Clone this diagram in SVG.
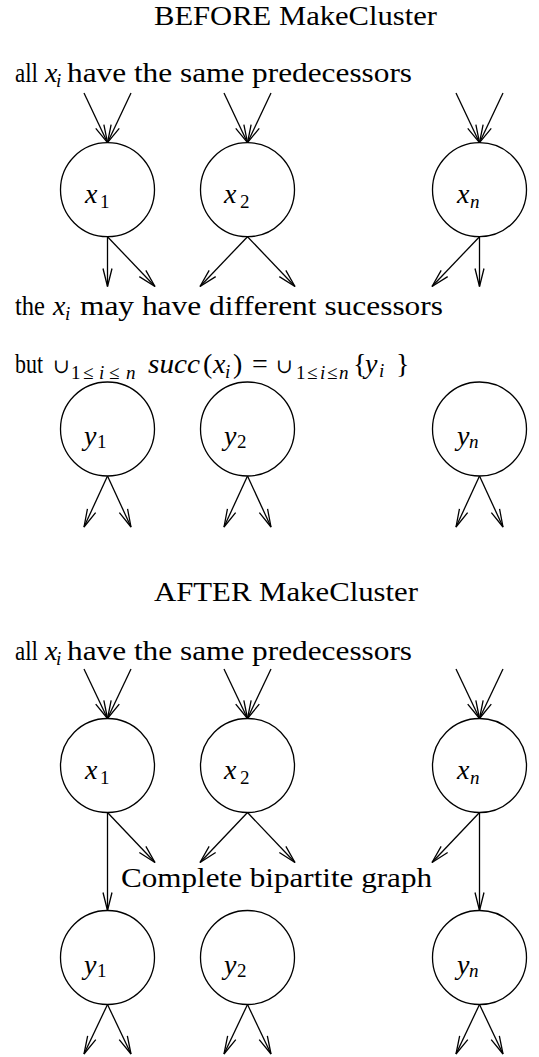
<svg xmlns="http://www.w3.org/2000/svg" width="539" height="1057" viewBox="0 0 539 1057">
<style>
text{font-family:"Liberation Serif","DejaVu Serif",serif;fill:#000}
.t{font-size:28px}
.m{font-style:italic}
.s{font-size:19px}
.node circle{fill:none;stroke:#000;stroke-width:1.3}
.node text{font-size:28px}
#connectors line{stroke:#000;stroke-width:1.3;marker-end:url(#ah)}
</style>
<defs>
<marker id="ah" markerUnits="userSpaceOnUse" markerWidth="24" markerHeight="14" viewBox="-20 -7 22 14" refX="0" refY="0" orient="auto">
<path d="M-18,-4.5 L0,0 L-18,4.5" fill="none" stroke="#000" stroke-width="1.3"/>
</marker>
</defs>

<g id="texts">
<text class="t" x="154" y="25" textLength="283" lengthAdjust="spacingAndGlyphs">BEFORE MakeCluster</text>
<text class="t" y="82"><tspan x="15" textLength="23" lengthAdjust="spacingAndGlyphs">all</tspan><tspan x="45" class="m">x</tspan><tspan x="56" dy="5" class="m s">i</tspan><tspan x="67" dy="-5" textLength="345" lengthAdjust="spacingAndGlyphs">have the same predecessors</tspan></text>
<text class="t" y="315"><tspan x="15" textLength="30" lengthAdjust="spacingAndGlyphs">the</tspan><tspan x="53" class="m">x</tspan><tspan x="65" dy="5" class="m s">i</tspan><tspan x="80" dy="-5" textLength="363" lengthAdjust="spacingAndGlyphs">may have different sucessors</tspan></text>
<text class="t" y="373"><tspan x="15" textLength="28" lengthAdjust="spacingAndGlyphs">but</tspan><tspan x="53" font-size="20">∪</tspan><tspan x="71" dy="6" class="s">1</tspan><tspan x="83" class="s">≤</tspan><tspan x="99" class="m s">i</tspan><tspan x="109" class="s">≤</tspan><tspan x="126" class="m s">n</tspan><tspan x="148" dy="-6" class="m" textLength="52" lengthAdjust="spacingAndGlyphs">succ</tspan><tspan x="203">(</tspan><tspan x="213" class="m">x</tspan><tspan x="225" dy="5" class="m s">i</tspan><tspan x="233" dy="-5">)</tspan><tspan x="252">=</tspan><tspan x="276" font-size="20">∪</tspan><tspan x="296" dy="6" class="s">1</tspan><tspan x="307" class="s">≤</tspan><tspan x="320" class="m s">i</tspan><tspan x="327" class="s">≤</tspan><tspan x="339" class="m s">n</tspan><tspan x="353" dy="-6">{</tspan><tspan x="365" class="m">y</tspan><tspan x="379" dy="4" class="m s">i</tspan><tspan x="396" dy="-4">}</tspan></text>
<text class="t" x="154" y="601" textLength="264" lengthAdjust="spacingAndGlyphs">AFTER MakeCluster</text>
<text class="t" y="660"><tspan x="15" textLength="23" lengthAdjust="spacingAndGlyphs">all</tspan><tspan x="45" class="m">x</tspan><tspan x="56" dy="5" class="m s">i</tspan><tspan x="67" dy="-5" textLength="345" lengthAdjust="spacingAndGlyphs">have the same predecessors</tspan></text>
<text class="t" x="121" y="887" textLength="311" lengthAdjust="spacingAndGlyphs">Complete bipartite graph</text>
</g>

<g id="bx1" class="node"><circle cx="107.5" cy="189.7" r="47"/><text y="203.3"><tspan x="85" class="m">x</tspan><tspan x="100" dy="5" class="s">1</tspan></text></g>
<g id="bx2" class="node"><circle cx="247.5" cy="189.7" r="47"/><text y="203.3"><tspan x="224" class="m">x</tspan><tspan x="240" dy="5" class="s">2</tspan></text></g>
<g id="bxn" class="node"><circle cx="479.5" cy="189.7" r="47"/><text y="203.3"><tspan x="457" class="m">x</tspan><tspan x="470" dy="5" class="m s">n</tspan></text></g>
<g id="by1" class="node"><circle cx="107.5" cy="429" r="47"/><text y="445"><tspan x="84" class="m">y</tspan><tspan x="97" dy="3" class="s">1</tspan></text></g>
<g id="by2" class="node"><circle cx="247.5" cy="429" r="47"/><text y="445"><tspan x="224" class="m">y</tspan><tspan x="237" dy="3" class="s">2</tspan></text></g>
<g id="byn" class="node"><circle cx="479.5" cy="429" r="47"/><text y="445"><tspan x="457" class="m">y</tspan><tspan x="469" dy="3" class="m s">n</tspan></text></g>

<g id="ax1" class="node"><circle cx="107.5" cy="765.5" r="47"/><text y="779"><tspan x="85" class="m">x</tspan><tspan x="100" dy="5" class="s">1</tspan></text></g>
<g id="ax2" class="node"><circle cx="247.5" cy="765.5" r="47"/><text y="779"><tspan x="224" class="m">x</tspan><tspan x="240" dy="5" class="s">2</tspan></text></g>
<g id="axn" class="node"><circle cx="479.5" cy="765.5" r="47"/><text y="779"><tspan x="457" class="m">x</tspan><tspan x="470" dy="5" class="m s">n</tspan></text></g>
<g id="ay1" class="node"><circle cx="107.5" cy="957.5" r="47"/><text y="973.5"><tspan x="84" class="m">y</tspan><tspan x="97" dy="3" class="s">1</tspan></text></g>
<g id="ay2" class="node"><circle cx="247.5" cy="957.5" r="47"/><text y="973.5"><tspan x="224" class="m">y</tspan><tspan x="237" dy="3" class="s">2</tspan></text></g>
<g id="ayn" class="node"><circle cx="479.5" cy="957.5" r="47"/><text y="973.5"><tspan x="457" class="m">y</tspan><tspan x="469" dy="3" class="m s">n</tspan></text></g>

<g id="connectors">
<line x1="84" y1="93" x2="107.5" y2="142.7"/><line x1="131" y1="93" x2="107.5" y2="142.7"/>
<line x1="224" y1="93" x2="247.5" y2="142.7"/><line x1="271" y1="93" x2="247.5" y2="142.7"/>
<line x1="456" y1="93" x2="479.5" y2="142.7"/><line x1="503" y1="93" x2="479.5" y2="142.7"/>
<line x1="107.5" y1="236.7" x2="107.5" y2="286.5"/><line x1="107.5" y1="236.7" x2="155" y2="286.5"/>
<line x1="247.5" y1="236.7" x2="200" y2="286.5"/><line x1="247.5" y1="236.7" x2="295" y2="286.5"/>
<line x1="479.5" y1="236.7" x2="432" y2="286.5"/><line x1="479.5" y1="236.7" x2="479.5" y2="286.5"/>
<line x1="107.5" y1="476" x2="84" y2="527"/><line x1="107.5" y1="476" x2="131" y2="527"/>
<line x1="247.5" y1="476" x2="224" y2="527"/><line x1="247.5" y1="476" x2="271" y2="527"/>
<line x1="479.5" y1="476" x2="456" y2="527"/><line x1="479.5" y1="476" x2="503" y2="527"/>
<line x1="84" y1="669" x2="107.5" y2="718.5"/><line x1="131" y1="669" x2="107.5" y2="718.5"/>
<line x1="224" y1="669" x2="247.5" y2="718.5"/><line x1="271" y1="669" x2="247.5" y2="718.5"/>
<line x1="456" y1="669" x2="479.5" y2="718.5"/><line x1="503" y1="669" x2="479.5" y2="718.5"/>
<line x1="107.5" y1="812.5" x2="107.5" y2="910.5"/><line x1="107.5" y1="812.5" x2="155" y2="862.5"/>
<line x1="247.5" y1="812.5" x2="200" y2="862.5"/><line x1="247.5" y1="812.5" x2="295" y2="862.5"/>
<line x1="479.5" y1="812.5" x2="432" y2="862.5"/><line x1="479.5" y1="812.5" x2="479.5" y2="910.5"/>
<line x1="107.5" y1="1004.5" x2="84" y2="1054"/><line x1="107.5" y1="1004.5" x2="131" y2="1054"/>
<line x1="247.5" y1="1004.5" x2="224" y2="1054"/><line x1="247.5" y1="1004.5" x2="271" y2="1054"/>
<line x1="479.5" y1="1004.5" x2="456" y2="1054"/><line x1="479.5" y1="1004.5" x2="503" y2="1054"/>
</g>
</svg>
